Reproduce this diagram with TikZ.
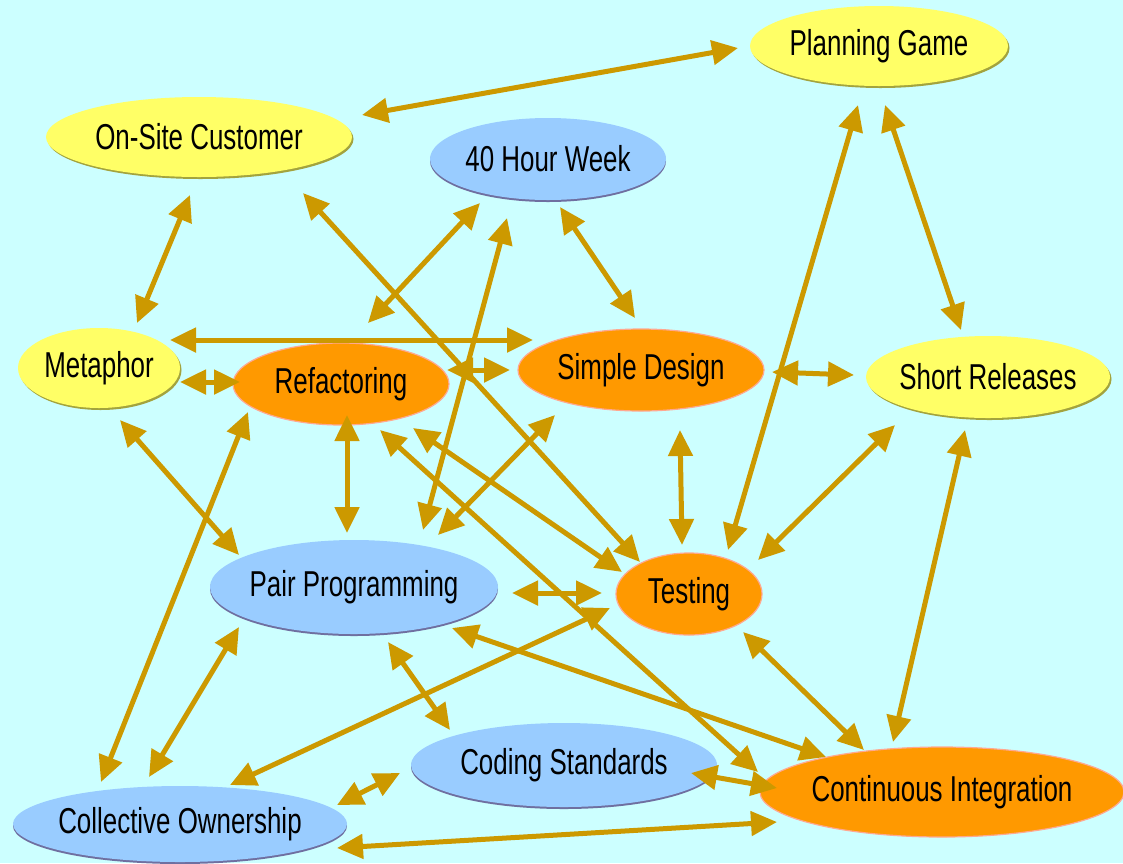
\documentclass[tikz,border=0pt]{standalone}
\usepackage{fontspec}
\setmainfont{Liberation Sans}[FakeStretch=0.72]
\usetikzlibrary{shapes.geometric,arrows.meta,calc,shadows}
\definecolor{bgcyan}{HTML}{CCFFFF}
\definecolor{linkgold}{HTML}{CC9900}
\definecolor{ylwfill}{HTML}{FFFF66}
\definecolor{ylwedge}{HTML}{A3A33D}
\definecolor{bluefill}{HTML}{99CCFF}
\definecolor{blueedge}{HTML}{6F6FA0}
\definecolor{orgfill}{HTML}{FF9900}
\definecolor{orgedge}{HTML}{FFA890}

\begin{document}
\begin{tikzpicture}[x=1pt,y=-1pt,
  practice/.style={ellipse, inner sep=0pt, outer sep=0pt,
    font=\fontsize{36}{40}\selectfont, text=black},
  yellowp/.style={practice, fill=ylwfill,
    drop shadow={shadow xshift=1.5pt, shadow yshift=-2pt, fill=ylwedge, opacity=1}},
  bluep/.style={practice, fill=bluefill,
    drop shadow={shadow xshift=0pt, shadow yshift=-2pt, fill=blueedge, opacity=1}},
  orangep/.style={practice, fill=orgfill, draw=orgedge, line width=1.2pt},
  link/.style={draw=linkgold, line width=5pt,
    {Triangle[length=26pt,width=24pt]}-{Triangle[length=26pt,width=24pt]}}
]
% canvas
\fill[bgcyan] (0,0) rectangle (1123,863);
\useasboundingbox (0,0) rectangle (1123,863);

% practices
\node[yellowp, minimum width=258pt, minimum height=80pt] (pg)   at (879,46)  {\makebox[0pt]{Planning Game}};
\node[yellowp, minimum width=306pt, minimum height=80pt] (osc)  at (199,137) {\makebox[0pt]{On-Site Customer}};
\node[bluep,   minimum width=236pt, minimum height=82pt] (hw)   at (548,159) {\makebox[0pt]{40 Hour Week}};
\node[yellowp, minimum width=162pt, minimum height=80pt] (met)  at (99,368)  {\makebox[0pt]{Metaphor}};
\node[orangep, minimum width=216pt, minimum height=82pt] (ref)  at (341,384) {\makebox[0pt]{Refactoring}};
\node[orangep, minimum width=246pt, minimum height=82pt] (sd)   at (641,370) {\makebox[0pt]{Simple Design}};
\node[yellowp, minimum width=244pt, minimum height=82pt] (sr)   at (988,377) {\makebox[0pt]{Short Releases}};
\node[bluep,   minimum width=288pt, minimum height=94pt] (pp)   at (354,587) {\makebox[0pt]{Pair Programming}};
\node[orangep, minimum width=146pt, minimum height=82pt] (test) at (689,594) {\makebox[0pt]{Testing}};
\node[bluep,   minimum width=306pt, minimum height=84pt] (cs)   at (564,765) {\makebox[0pt]{Coding Standards}};
\node[bluep,   minimum width=334pt, minimum height=76pt] (co)   at (180,824) {\makebox[0pt]{Collective Ownership}};
\node[orangep, minimum width=364pt, minimum height=90pt] (ci)   at (942,792) {\makebox[0pt]{Continuous Integration}};

% relationships
\draw[link] ($(osc)+(163,-22)$) -- ($(pg)+(-141,2)$);
\draw[link] ($(osc)+(-9,58)$)   -- ($(met)+(38,-45)$);
\draw[link] ($(osc)+(104,56)$)  -- ($(test)+(-49,-32)$);
\draw[link] ($(hw)+(-68,44)$)   -- ($(ref)+(27,-61)$);
\draw[link] ($(hw)+(-41,59)$)   -- ($(pp)+(69,-57)$);
\draw[link] ($(hw)+(12,48)$)    -- ($(sd)+(-6,-52)$);
\draw[link] ($(met)+(71,-28)$)  -- ($(sd)+(-108,-30)$);
\draw[link] ($(met)+(81,14)$)   -- ($(ref)+(-101,-2)$);
\draw[link] ($(ref)+(106,-14)$) -- ($(sd)+(-131,0)$);
\draw[link] ($(met)+(21,52)$)   -- ($(pp)+(-115,-32)$);
\draw[link] ($(ref)+(-93,28)$)  -- ($(co)+(-79,-42)$);
\draw[link] ($(ref)+(6,31)$)    -- ($(pp)+(-7,-54)$);
\draw[link] ($(ref)+(39,46)$)   -- ($(ci)+(-184,-20)$);
\draw[link] ($(ref)+(72,44)$)   -- ($(test)+(-67,-22)$);
\draw[link] ($(sd)+(-86,45)$)   -- ($(pp)+(84,-52)$);
\draw[link] ($(sd)+(39,60)$)    -- ($(test)+(-7,-49)$);
\draw[link] ($(sd)+(131,2)$)    -- ($(sr)+(-134,-2)$);
\draw[link] ($(pg)+(-21,59)$)   -- ($(test)+(39,-44)$);
\draw[link] ($(pg)+(6,59)$)     -- ($(sr)+(-27,-47)$);
\draw[link] ($(sr)+(-93,48)$)   -- ($(test)+(69,-34)$);
\draw[link] ($(sr)+(-23,53)$)   -- ($(ci)+(-49,-50)$);
\draw[link] ($(test)+(54,38)$)  -- ($(ci)+(-78,-42)$);
\draw[link] ($(pp)+(158,6)$)    -- ($(test)+(-87,-1)$);
\draw[link] ($(pp)+(34,55)$)    -- ($(cs)+(-114,-35)$);
\draw[link] ($(pp)+(-115,40)$)  -- ($(co)+(-31,-47)$);
\draw[link] ($(pp)+(98,41)$)    -- ($(ci)+(-116,-35)$);
\draw[link] ($(test)+(-79,14)$) -- ($(co)+(50,-39)$);
\draw[link] ($(co)+(157,-19)$)  -- ($(cs)+(-164,8)$);
\draw[link] ($(co)+(157,24)$)   -- ($(ci)+(-165,30)$);
\draw[link] ($(cs)+(127,8)$)    -- ($(ci)+(-165,-4)$);
\end{tikzpicture}
\end{document}
